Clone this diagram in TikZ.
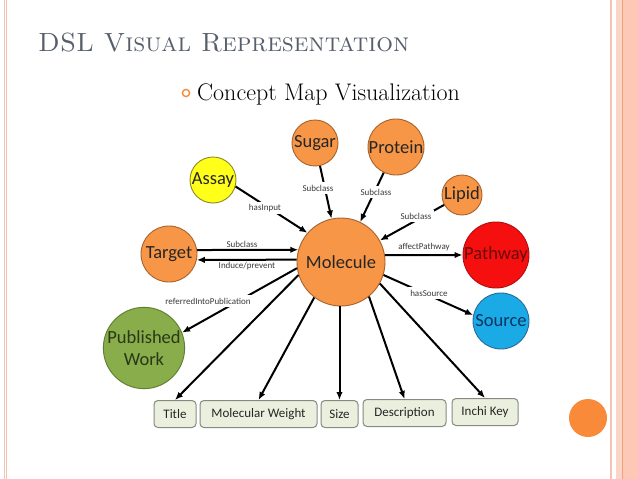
\documentclass[tikz,border=0pt]{standalone}
\usepackage{fontspec}
\newfontfamily\carl{Carlito}
\usetikzlibrary{arrows.meta}
\definecolor{titlegray}{HTML}{575F6B}
\definecolor{bordpink}{HTML}{F4C4B4}
\definecolor{bordfill}{HTML}{FDC9B6}
\definecolor{bordband}{HTML}{F9D6C6}
\definecolor{bordline}{HTML}{F0A27A}
\definecolor{accorange}{HTML}{F98A3A}
\definecolor{molfill}{HTML}{F79646}
\definecolor{moldraw}{HTML}{A8622C}
\definecolor{pathfill}{HTML}{F50F0F}
\definecolor{pathdraw}{HTML}{B01010}
\definecolor{pathtext}{HTML}{6A0A0A}
\definecolor{srcfill}{HTML}{1AAAE6}
\definecolor{srcdraw}{HTML}{2A6A9A}
\definecolor{srctext}{HTML}{0C3560}
\definecolor{pubfill}{HTML}{88AD4A}
\definecolor{pubdraw}{HTML}{5E7D30}
\definecolor{pubtext}{HTML}{2A3818}
\definecolor{assfill}{HTML}{FFFF1A}
\definecolor{assdraw}{HTML}{8A8A20}
\definecolor{boxfill}{HTML}{EBF0DE}
\definecolor{boxdraw}{HTML}{858A80}
\definecolor{lbltext}{HTML}{3A3A3A}
\begin{document}
\begin{tikzpicture}[x=1pt,y=-1pt,
  concept/.style={circle, draw=moldraw, line width=0.9pt, fill=molfill, inner sep=0pt,
    text=black!85, font=\carl\fontsize{18.5}{21}\selectfont},
  attrbox/.style={rectangle, rounded corners=4pt, draw=boxdraw, line width=1pt, fill=boxfill,
    minimum height=27pt, inner sep=0pt, text=black!85, font=\carl\fontsize{13}{15}\selectfont},
  rel/.style={line width=2pt, -{Latex[length=8pt,width=6.5pt]}},
  lbl/.style={fill=white, inner sep=2.5pt, text=lbltext, font=\carl\fontsize{9}{10}\selectfont},
  lblclear/.style={inner sep=1pt, text=lbltext, font=\carl\fontsize{9}{10}\selectfont}]
\useasboundingbox (0,0) rectangle (638,479);
\fill[white] (0,0) rectangle (638,479);
% slide frame
\fill[bordfill] (623,0) rectangle (638,479);
\fill[bordband] (615.5,0) rectangle (622,479);
\draw[bordline, line width=1.2pt] (622.5,0) -- (622.5,479);
\draw[bordpink, line width=1.6pt] (611,0) -- (611,479);
\draw[bordpink, line width=1pt] (4,0) -- (4,479);
\draw[bordpink, line width=0.8pt] (6.4,0) -- (6.4,479);
\fill[accorange] (588,418) circle (19);
% headings
\node[anchor=base west, inner sep=0pt, text=titlegray, font=\fontsize{26.3}{30}\selectfont] (heading) at (38,51) {\textsc{DSL Visual Representation}};
\draw[accorange, line width=1.4pt] (186,93) circle (3.6);
\node[anchor=base west, inner sep=0pt, font=\fontsize{24}{28}\selectfont] (bullet) at (197,100) {Concept Map Visualization};
% concepts
\node[concept, minimum size=88pt] (mol) at (341,262) {Molecule};
\node[concept, minimum size=46pt] (sugar) at (315,143) {Sugar};
\node[concept, minimum size=56pt] (protein) at (396,147) {Protein};
\node[concept, minimum size=40pt] (lipid) at (462,195) {Lipid};
\node[concept, minimum size=46pt, fill=assfill, draw=assdraw] (assay) at (213,180) {Assay};
\node[concept, minimum size=56pt] (target) at (169,254) {Target};
\node[concept, minimum size=66pt, fill=pathfill, draw=pathdraw, text=pathtext] (pathway) at (496,255) {Pathway};
\node[concept, minimum size=56pt, fill=srcfill, draw=srcdraw, text=srctext] (source) at (501,321) {Source};
\node[concept, minimum size=68pt, fill=pubfill, draw=pubdraw, text=pubtext, align=center,
  font=\carl\fontsize{18.5}{22}\selectfont] (pub) at (144,348) {Published\\Work};
% attributes
\node[attrbox, minimum width=42pt] (title) at (175,414) {Title};
\node[attrbox, minimum width=117pt] (mw) at (258.5,414) {Molecular Weight};
\node[attrbox, minimum width=37pt] (size) at (339.5,414) {Size};
\node[attrbox, minimum width=83pt] (desc) at (404.5,413) {Description};
\node[attrbox, minimum width=66pt] (inchi) at (485,412) {Inchi Key};
% relations
\draw[rel] (sugar) -- (mol);
\draw[rel] (protein) -- (mol);
\draw[rel] (lipid) -- (mol);
\draw[rel] (assay.-16) -- (mol.139);
\draw[rel] (target.8) -- (mol.164);
\draw[rel] (mol.177) -- (target.-12);
\draw[rel] (mol.9) -- (pathway.west);
\draw[rel] (mol.-17) -- (source.168);
\draw[rel] (mol.188) -- (pub.22);
\draw[rel] (mol.197) -- (title.north);
\draw[rel] (mol.233) -- (mw.north);
\draw[rel] (mol.south -| size.north) -- (size.north);
\draw[rel] (mol.-51) -- (desc.north);
\draw[rel] (mol.-29) -- (inchi.north);
% relation labels
\node[lbl] (l1) at (318,188) {Subclass};
\node[lbl] (l2) at (376,192) {Subclass};
\node[lbl] (l3) at (416,216) {Subclass};
\node[lbl] (l4) at (265,208) {hasInput};
\node[lblclear] (l5) at (242,244) {Subclass};
\node[lblclear] (l6) at (247,266) {Induce/prevent};
\node[lblclear] (l7) at (424,247) {affectPathway};
\node[lbl] (l8) at (429,293) {hasSource};
\node[lbl] (l9) at (208,301) {referredIntoPublication};
\end{tikzpicture}
\end{document}
